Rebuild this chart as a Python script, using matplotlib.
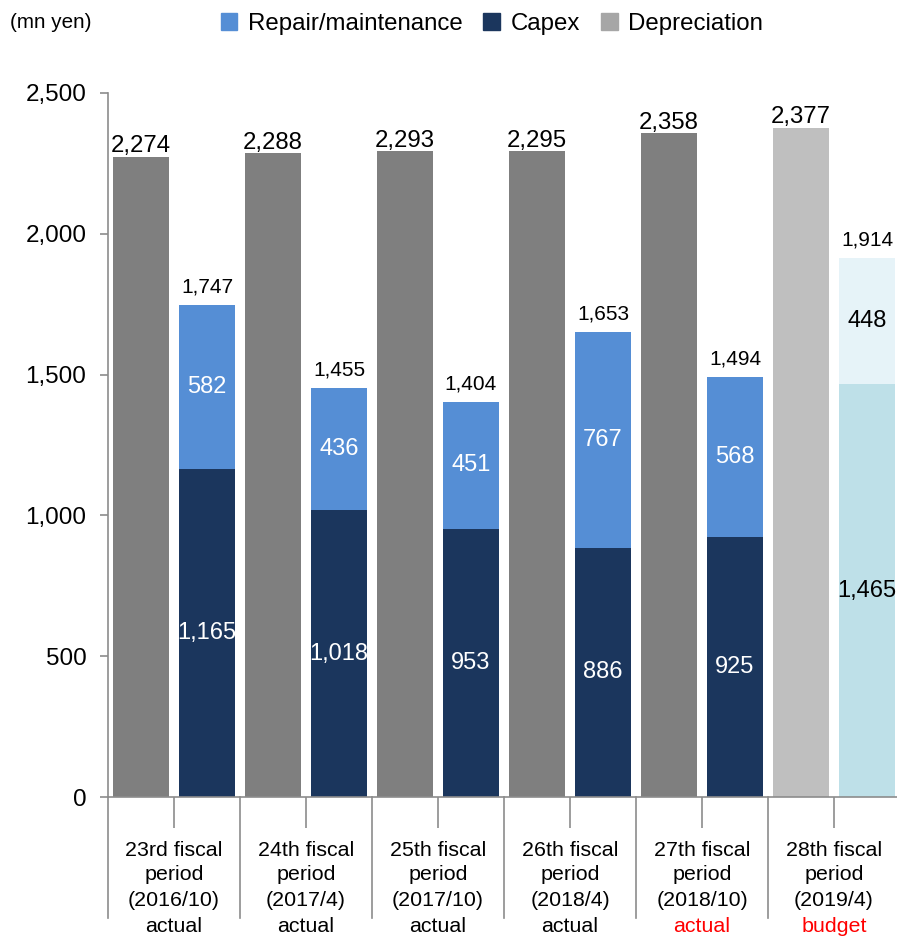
import matplotlib
matplotlib.use("Agg")
import matplotlib.pyplot as plt
from matplotlib.patches import Patch
import numpy as np

plt.rcParams['font.family'] = ['Liberation Sans', 'DejaVu Sans']

periods = ["23rd fiscal", "24th fiscal", "25th fiscal", "26th fiscal", "27th fiscal", "28th fiscal"]
dates = ["(2016/10)", "(2017/4)", "(2017/10)", "(2018/4)", "(2018/10)", "(2019/4)"]
status = ["actual", "actual", "actual", "actual", "actual", "budget"]
status_red = [False, False, False, False, True, True]

depreciation = [2274, 2288, 2293, 2295, 2358, 2377]
capex = [1165, 1018, 953, 886, 925, 1465]
repair = [582, 436, 451, 767, 568, 448]
totals = [1747, 1455, 1404, 1653, 1494, 1914]
yticks = [0, 500, 1000, 1500, 2000, 2500]

dep_colors = ["#7F7F7F"] * 5 + ["#BFBFBF"]
capex_colors = ["#1B365D"] * 5 + ["#BEE0E8"]
repair_colors = ["#558ED5"] * 5 + ["#E6F3F8"]
inner_text = ["white"] * 5 + ["black"]

fig = plt.figure(figsize=(8.97, 9.36), dpi=100)
ax = fig.add_axes([108/897, 1-797/936, 792/897, 704/936])

x = np.arange(len(periods))
w = 0.424
off = 0.25
ax.bar(x - off, depreciation, width=w, color=dep_colors, edgecolor='none', zorder=2)
ax.bar(x + off, capex, width=w, color=capex_colors, edgecolor='none', zorder=2)
ax.bar(x + off, repair, width=w, bottom=capex, color=repair_colors, edgecolor='none', zorder=2)

for i in range(len(x)):
    ax.annotate(f"{depreciation[i]:,}", (x[i] - off, depreciation[i]), xytext=(0, 3),
                textcoords='offset points', ha='center', va='baseline', fontsize=17.3)
    ax.annotate(f"{totals[i]:,}", (x[i] + off, capex[i] + repair[i]), xytext=(0, 6),
                textcoords='offset points', ha='center', va='bottom', fontsize=15)
    ax.text(x[i] + off, capex[i] / 2, f"{capex[i]:,}", ha='center', va='center',
            fontsize=17, color=inner_text[i], zorder=3)
    ax.text(x[i] + off, capex[i] + repair[i] / 2, f"{repair[i]:,}", ha='center', va='center',
            fontsize=17, color=inner_text[i], zorder=3)

ax.set_xlim(-0.5, 5.5)
ax.set_ylim(0, 2500)
ax.set_yticks(yticks)
ax.set_yticklabels([f"{v:,}" for v in yticks], fontsize=17.5)
ax.set_xticks(x)
ax.set_xticklabels([])
ax.tick_params(axis='x', length=22, color='#8C8C8C', width=1.2)
ax.tick_params(axis='y', length=5.5, color='#8C8C8C', width=1.2, pad=10)
for s in ['top', 'right']:
    ax.spines[s].set_visible(False)
for s in ['left', 'bottom']:
    ax.spines[s].set_color('#8C8C8C')
    ax.spines[s].set_linewidth(1.2)

tr = ax.get_xaxis_transform()
for k in range(len(x) + 1):
    ax.plot([k - 0.5, k - 0.5], [0, -(918-797)/704], transform=tr, color='#8C8C8C',
            lw=1.2, clip_on=False)

ys = [-(850-797)/704, -(875-797)/704, -(900-797)/704, -(926-797)/704]
for i in range(len(x)):
    ax.text(x[i], ys[0], periods[i], transform=tr, ha='center', va='center', fontsize=15.4)
    ax.text(x[i], ys[1], "period", transform=tr, ha='center', va='center', fontsize=15.4)
    ax.text(x[i], ys[2], dates[i], transform=tr, ha='center', va='center', fontsize=15.4)
    ax.text(x[i], ys[3], status[i], transform=tr, ha='center', va='center', fontsize=15.4,
            color='red' if status_red[i] else 'black')

fig.text(10/897, 1-22/936, "(mn yen)", fontsize=14.9, ha='left', va='center')

handles = [Patch(color="#558ED5", label="Repair/maintenance"),
           Patch(color="#1B365D", label="Capex"),
           Patch(color="#A6A6A6", label="Depreciation")]
fig.legend(handles=handles, loc='center', bbox_to_anchor=(492/897, 1-24/936), ncol=3,
           frameon=False, fontsize=17.3, handlelength=0.7, handleheight=0.7,
           handletextpad=0.45, columnspacing=0.85)

fig.savefig("out.png", dpi=100)
